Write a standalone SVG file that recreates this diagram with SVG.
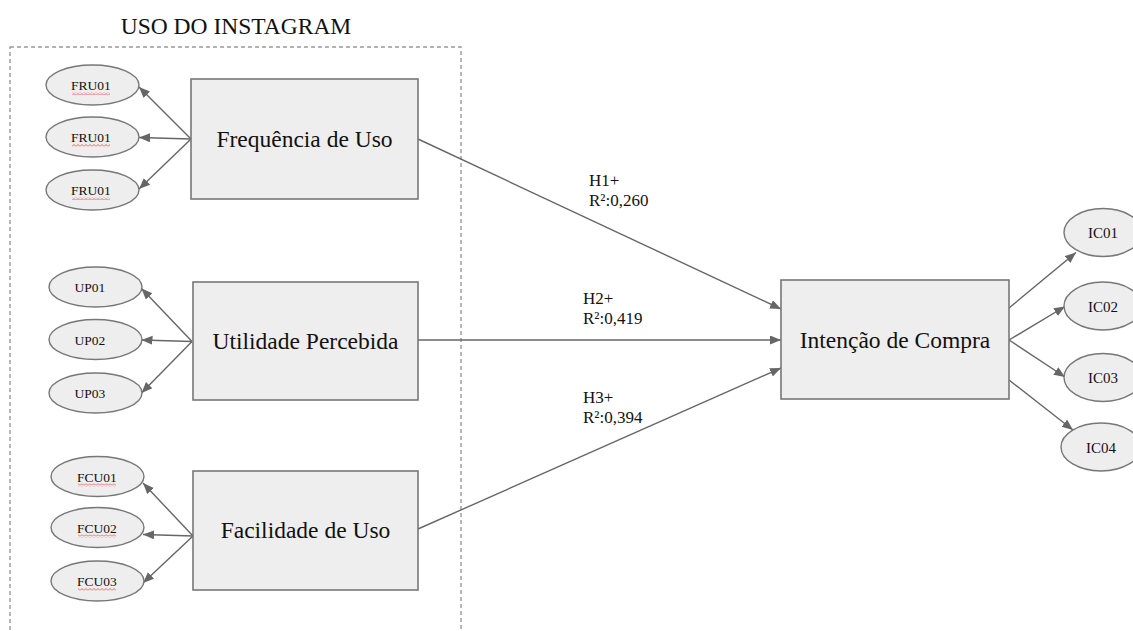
<svg xmlns="http://www.w3.org/2000/svg" width="1133" height="631" viewBox="0 0 1133 631">
<defs>
<style>
.box{fill:#eeeeee;stroke:#777;stroke-width:1.6}
.ell{fill:#eeeeee;stroke:#777;stroke-width:1.4}
.t{font-family:"Liberation Serif","Times New Roman",serif;fill:#111}
.big{font-size:23.5px;text-anchor:middle}
.sm{font-size:13.5px;text-anchor:middle}
.ic{font-size:15px;text-anchor:middle}
.lab{font-size:17px}
.con line{stroke:#666;stroke-width:1.4;marker-end:url(#ah)}
.wavy{fill:url(#wv)}
</style>
<marker id="ah" markerUnits="userSpaceOnUse" markerWidth="12" markerHeight="10" refX="11" refY="4.5" orient="auto">
<path d="M0,0 L11,4.5 L0,9 z" fill="#666"/>
</marker>
<pattern id="wv" patternUnits="userSpaceOnUse" width="4" height="3">
<path d="M0,2.5 L2,0.5 L4,2.5" fill="none" stroke="#e04040" stroke-width="0.8"/>
</pattern>
</defs>
<rect width="1133" height="631" fill="#ffffff"/>
<g id="grupo-uso-instagram">
<rect x="10" y="47" width="451" height="600" fill="none" stroke="#999" stroke-width="1.4" stroke-dasharray="4,3"/>
<text class="t big" x="236" y="34">USO DO INSTAGRAM</text>
</g>
<g class="con" id="connectors">
<line x1="191" y1="139" x2="139" y2="87"/>
<line x1="191" y1="139" x2="139" y2="137.5"/>
<line x1="191" y1="139" x2="139" y2="189"/>
<line x1="192" y1="341.5" x2="141.5" y2="288.5"/>
<line x1="192" y1="341.5" x2="141.5" y2="340"/>
<line x1="192" y1="341.5" x2="141.5" y2="393"/>
<line x1="193" y1="536" x2="143" y2="483"/>
<line x1="193" y1="536" x2="143" y2="534.5"/>
<line x1="193" y1="536" x2="143" y2="583"/>
<line x1="418" y1="139" x2="781" y2="309"/>
<line x1="418" y1="340" x2="781" y2="340"/>
<line x1="418" y1="529" x2="781" y2="368"/>
<line x1="1009" y1="308" x2="1076" y2="252.5"/>
<line x1="1009" y1="340" x2="1065" y2="306.5"/>
<line x1="1009" y1="340" x2="1065" y2="377"/>
<line x1="1009" y1="380" x2="1073" y2="430"/>
</g>
<g id="freq-uso">
<rect class="box" x="191" y="79" width="227" height="120"/>
<text class="t big" x="304.5" y="147">Frequência de Uso</text>
</g>
<g id="util-perc">
<rect class="box" x="193" y="282" width="225" height="118"/>
<text class="t big" x="305.5" y="349">Utilidade Percebida</text>
</g>
<g id="facil-uso">
<rect class="box" x="193" y="471" width="225" height="119"/>
<text class="t big" x="305.5" y="538">Facilidade de Uso</text>
</g>
<g id="intencao-compra">
<rect class="box" x="781" y="280" width="228" height="119"/>
<text class="t big" x="895" y="348">Intenção de Compra</text>
</g>
<g id="FRU01a"><ellipse class="ell" cx="92.5" cy="85" rx="46.5" ry="20"/><text class="t sm" x="91" y="90">FRU01</text><rect class="wavy" x="72" y="92" width="38" height="3"/></g>
<g id="FRU01b"><ellipse class="ell" cx="92.5" cy="137" rx="46.5" ry="20"/><text class="t sm" x="91" y="142">FRU01</text><rect class="wavy" x="72" y="144" width="38" height="3"/></g>
<g id="FRU01c"><ellipse class="ell" cx="92.5" cy="190" rx="46.5" ry="20"/><text class="t sm" x="91" y="195">FRU01</text><rect class="wavy" x="72" y="197" width="38" height="3"/></g>
<g id="UP01"><ellipse class="ell" cx="95.5" cy="287" rx="46.5" ry="20"/><text class="t sm" x="90" y="292">UP01</text></g>
<g id="UP02"><ellipse class="ell" cx="95.5" cy="339.5" rx="46.5" ry="20"/><text class="t sm" x="90" y="344.5">UP02</text></g>
<g id="UP03"><ellipse class="ell" cx="95.5" cy="393" rx="46.5" ry="20"/><text class="t sm" x="90" y="398">UP03</text></g>
<g id="FCU01"><ellipse class="ell" cx="97.5" cy="476.5" rx="46.5" ry="20"/><text class="t sm" x="97" y="481.5">FCU01</text><rect class="wavy" x="78" y="483.5" width="38" height="3"/></g>
<g id="FCU02"><ellipse class="ell" cx="97.5" cy="527.5" rx="46.5" ry="20"/><text class="t sm" x="97" y="532.5">FCU02</text><rect class="wavy" x="78" y="534.5" width="38" height="3"/></g>
<g id="FCU03"><ellipse class="ell" cx="97.5" cy="581" rx="46.5" ry="20"/><text class="t sm" x="97" y="586">FCU03</text><rect class="wavy" x="78" y="588" width="38" height="3"/></g>
<g id="IC01"><ellipse class="ell" cx="1103" cy="232.5" rx="39" ry="24"/><text class="t ic" x="1103" y="238">IC01</text></g>
<g id="IC02"><ellipse class="ell" cx="1103" cy="306" rx="39" ry="24"/><text class="t ic" x="1103" y="311.5">IC02</text></g>
<g id="IC03"><ellipse class="ell" cx="1103" cy="377.5" rx="39" ry="24"/><text class="t ic" x="1103" y="383">IC03</text></g>
<g id="IC04"><ellipse class="ell" cx="1101" cy="447" rx="40" ry="24"/><text class="t ic" x="1101" y="452.5">IC04</text></g>
<g id="labels">
<text class="t lab" x="589" y="186">H1+</text>
<text class="t lab" x="589" y="206">R²:0,260</text>
<text class="t lab" x="583" y="304">H2+</text>
<text class="t lab" x="583" y="324">R²:0,419</text>
<text class="t lab" x="583" y="403">H3+</text>
<text class="t lab" x="583" y="423">R²:0,394</text>
</g>
</svg>
